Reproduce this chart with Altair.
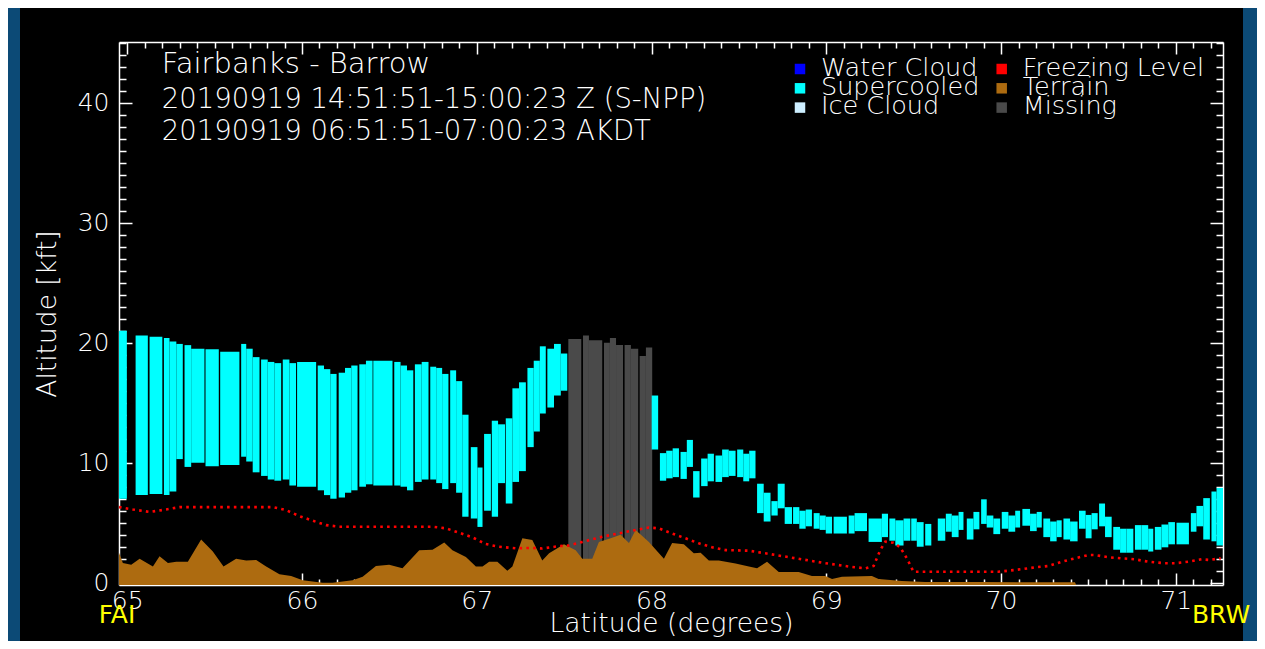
import altair as alt
import pandas as pd

# ---------------- data ----------------
# supercooled cloud columns: latitude start/end, base and top (kft)
cyan_lat0 = [64.953, 65.048, 65.128, 65.21, 65.242, 65.281, 65.328, 65.366, 65.448, 65.532,
             65.652, 65.681, 65.718, 65.766, 65.804, 65.842, 65.89, 65.928, 65.972, 66.09,
             66.126, 66.162, 66.21, 66.246, 66.282, 66.328, 66.366, 66.408, 66.528, 66.564,
             66.601, 66.646, 66.685, 66.734, 66.768, 66.802, 66.848, 66.882, 66.917, 66.966,
             67.004, 67.042, 67.086, 67.122, 67.166, 67.204, 67.242, 67.29, 67.326, 67.361,
             67.404, 67.442, 67.481,
             68.001, 68.048, 68.084, 68.121, 68.166, 68.202, 68.238, 68.284, 68.321, 68.366,
             68.404, 68.442, 68.49, 68.525, 68.559, 68.604, 68.642, 68.686, 68.722, 68.762,
             68.81, 68.846, 68.882, 68.928, 68.962, 68.997, 69.042, 69.128, 69.162, 69.242,
             69.318, 69.361, 69.395, 69.442, 69.486, 69.518, 69.566, 69.638, 69.684, 69.718,
             69.757, 69.804, 69.842, 69.886, 69.918, 69.956, 70.004, 70.042, 70.081, 70.122,
             70.166, 70.204, 70.242, 70.281, 70.318, 70.357, 70.395, 70.446, 70.484, 70.518,
             70.561, 70.595, 70.642, 70.681, 70.718, 70.766, 70.804, 70.842, 70.88, 70.918,
             70.957, 71.004, 71.086, 71.118, 71.157, 71.204, 71.233]
cyan_lat1 = [64.998, 65.118, 65.201, 65.242, 65.281, 65.318, 65.366, 65.442, 65.524, 65.642,
             65.681, 65.718, 65.757, 65.804, 65.842, 65.881, 65.928, 65.966, 66.081, 66.126,
             66.162, 66.198, 66.246, 66.282, 66.318, 66.366, 66.404, 66.518, 66.564, 66.601,
             66.637, 66.685, 66.724, 66.768, 66.802, 66.838, 66.882, 66.917, 66.953, 67.004,
             67.033, 67.081, 67.122, 67.162, 67.204, 67.242, 67.281, 67.326, 67.361, 67.395,
             67.442, 67.481, 67.518,
             68.038, 68.084, 68.121, 68.157, 68.202, 68.237, 68.275, 68.321, 68.357, 68.404,
             68.442, 68.481, 68.525, 68.559, 68.595, 68.642, 68.681, 68.722, 68.762, 68.804,
             68.846, 68.882, 68.918, 68.962, 68.997, 69.033, 69.118, 69.162, 69.233, 69.318,
             69.353, 69.395, 69.442, 69.481, 69.518, 69.557, 69.601, 69.681, 69.718, 69.757,
             69.785, 69.842, 69.876, 69.918, 69.956, 69.995, 70.042, 70.081, 70.109, 70.166,
             70.204, 70.233, 70.281, 70.318, 70.347, 70.395, 70.438, 70.484, 70.518, 70.553,
             70.595, 70.633, 70.681, 70.718, 70.757, 70.804, 70.842, 70.871, 70.918, 70.957,
             70.995, 71.075, 71.118, 71.157, 71.195, 71.233, 71.27]
cyan_base = [7.0, 7.3, 7.4, 7.3, 7.6, 10.3, 9.65, 10.0, 9.7, 9.8,
             10.5, 10.1, 9.2, 8.9, 8.6, 8.5, 8.6, 8.1, 8.0, 7.7,
             7.3, 7.0, 7.1, 7.5, 7.7, 8.0, 8.2, 8.1, 8.1, 8.0,
             7.7, 8.4, 8.6, 8.6, 8.3, 7.8, 8.3, 7.5, 5.5, 5.35,
             4.65, 6.0, 5.5, 8.3, 6.6, 8.4, 9.3, 11.3, 12.6, 14.1,
             14.6, 15.6, 16.0,
             11.1, 8.5, 8.7, 8.8, 8.65, 9.65, 7.1, 8.05, 8.45, 8.4,
             8.8, 8.9, 8.8, 8.45, 8.7, 5.8, 5.1, 5.6, 6.2, 4.9,
             4.9, 4.5, 4.7, 4.5, 4.4, 4.1, 4.1, 4.1, 4.3, 3.4,
             3.8, 3.5, 3.1, 3.5, 3.5, 3.0, 3.1, 3.5, 4.25, 3.8,
             4.4, 3.6, 4.45, 4.9, 4.6, 4.05, 4.5, 4.25, 4.6, 4.75,
             4.3, 4.6, 3.8, 3.45, 3.8, 3.6, 3.45, 4.5, 3.7, 4.45,
             4.7, 3.8, 2.75, 2.5, 2.5, 2.75, 2.75, 2.6, 2.75, 2.95,
             3.2, 3.2, 4.25, 4.7, 3.6, 3.45, 3.1]
cyan_top = [21.0, 20.6, 20.5, 20.4, 20.1, 19.9, 19.8, 19.5, 19.45, 19.25,
            19.9, 19.5, 18.8, 18.6, 18.4, 18.3, 18.6, 18.3, 18.4, 18.1,
            17.8, 17.4, 17.5, 17.9, 18.1, 18.2, 18.5, 18.5, 18.4, 18.1,
            17.7, 18.2, 18.4, 18.0, 17.9, 17.4, 17.7, 16.8, 14.0, 11.3,
            9.6, 12.4, 13.5, 13.2, 13.7, 16.2, 16.7, 17.9, 18.5, 19.7,
            19.5, 19.9, 19.1,
            15.6, 10.8, 11.0, 11.2, 10.9, 11.9, 9.3, 10.35, 10.75, 10.6,
            11.1, 11.0, 11.1, 10.75, 11.0, 8.25, 7.5, 6.8, 8.25, 6.3,
            6.3, 6.0, 6.1, 5.8, 5.6, 5.5, 5.5, 5.6, 5.8, 5.35,
            5.75, 5.35, 5.2, 5.35, 5.35, 5.05, 4.9, 5.35, 5.75, 5.6,
            5.9, 5.35, 5.9, 6.95, 5.6, 5.35, 5.9, 5.6, 6.0, 6.15,
            5.75, 5.9, 5.35, 5.1, 5.2, 5.35, 5.1, 6.0, 5.65, 5.8,
            6.6, 5.5, 4.65, 4.5, 4.5, 4.8, 4.8, 4.5, 4.65, 4.85,
            5.05, 5.0, 5.8, 6.4, 7.05, 7.6, 7.9]

# missing-data columns
miss_lat0 = [67.524, 67.608, 67.642, 67.728, 67.762, 67.797, 67.846, 67.882, 67.932, 67.968]
miss_lat1 = [67.598, 67.642, 67.718, 67.762, 67.797, 67.837, 67.882, 67.924, 67.968, 68.004]
miss_top = [20.3, 20.6, 20.2, 20.0, 20.4, 19.8, 19.8, 19.5, 18.9, 19.6]

# terrain profile
terrain_lat = [64.953, 64.975, 65.023, 65.071, 65.147, 65.185, 65.233, 65.281, 65.347, 65.423,
               65.49, 65.551, 65.623, 65.681, 65.738, 65.795, 65.871, 65.938, 66.004, 66.118,
               66.175, 66.29, 66.347, 66.423, 66.499, 66.575, 66.671, 66.747, 66.814, 66.861,
               66.938, 66.995, 67.033, 67.071, 67.118, 67.175, 67.204, 67.261, 67.318, 67.375,
               67.414, 67.499, 67.566, 67.604, 67.661, 67.699, 67.766, 67.823, 67.871, 67.909,
               67.985, 68.071, 68.118, 68.185, 68.242, 68.281, 68.328, 68.385, 68.481, 68.557,
               68.604, 68.661, 68.728, 68.842, 68.918, 68.995, 69.033, 69.09, 69.261, 69.299,
               69.433, 69.566, 69.871, 70.423, 70.43]
terrain_kft = [2.5, 1.65, 1.5, 2.0, 1.35, 2.2, 1.65, 1.75, 1.75, 3.6,
               2.6, 1.35, 2.0, 1.85, 1.9, 1.35, 0.7, 0.55, 0.2, 0.0,
               0.0, 0.2, 0.5, 1.4, 1.5, 1.2, 2.7, 2.75, 3.35, 2.7,
               2.15, 1.35, 1.35, 1.75, 1.75, 1.0, 1.35, 3.7, 3.55, 1.85,
               2.45, 3.2, 2.7, 2.0, 2.0, 3.4, 3.7, 4.0, 3.3, 4.4,
               3.4, 2.0, 3.3, 3.2, 2.45, 2.5, 1.85, 1.85, 1.6, 1.35,
               1.2, 1.75, 0.9, 0.9, 0.55, 0.55, 0.3, 0.5, 0.55, 0.3,
               0.15, 0.05, 0.05, 0.03, -0.19]

# freezing level
frz_lat = [64.953, 65.033, 65.128, 65.223, 65.299, 65.413, 65.604, 65.833, 65.909, 65.985,
           66.061, 66.138, 66.214, 66.366, 66.747, 66.823, 66.899, 66.975, 67.052, 67.128,
           67.223, 67.318, 67.375, 67.471, 67.528, 67.604, 67.718, 67.833, 67.909, 67.985,
           68.042, 68.118, 68.195, 68.271, 68.347, 68.423, 68.556, 68.652, 68.747, 68.861,
           68.975, 69.071, 69.128, 69.223, 69.271, 69.309, 69.338, 69.385, 69.423, 69.461,
           69.499, 69.699, 69.985, 70.081, 70.195, 70.271, 70.347, 70.423, 70.499, 70.538,
           70.614, 70.69, 70.766, 70.842, 70.938, 70.995, 71.071, 71.147, 71.19, 71.257]
frz_kft = [6.3, 6.1, 5.9, 6.1, 6.3, 6.3, 6.3, 6.3, 6.05, 5.55,
           5.17, 4.8, 4.67, 4.67, 4.67, 4.53, 4.17, 3.78, 3.22, 3.0,
           2.87, 2.9, 2.85, 3.05, 3.1, 3.4, 3.83, 4.17, 4.4, 4.6,
           4.53, 4.1, 3.7, 3.28, 2.95, 2.72, 2.67, 2.45, 2.22, 1.95,
           1.67, 1.47, 1.35, 1.2, 1.4, 2.72, 3.42, 3.33, 2.95, 2.03,
           0.92, 0.92, 0.92, 1.06, 1.28, 1.39, 1.75, 2.03, 2.31, 2.31,
           2.12, 2.03, 1.95, 1.75, 1.62, 1.62, 1.75, 1.95, 1.9, 2.03]

x_major = [65, 66, 67, 68, 69, 70, 71]
y_major = [0, 10, 20, 30, 40]
title_lines = ["Fairbanks - Barrow",
               "20190919 14:51:51-15:00:23 Z (S-NPP)",
               "20190919 06:51:51-07:00:23 AKDT"]
legend_labels = ["Water Cloud", "Supercooled", "Ice Cloud",
                 "Freezing Level", "Terrain", "Missing"]
legend_colors = ["#0000ff", "#00ffff", "#cdeeff", "#ff0000", "#ad6b10", "#4a4a4a"]
end_labels = ["FAI", "BRW"]

# ---------------- layout ----------------
W, H = 1104, 543
FONT = "DejaVu Sans"
FW = 200
TXT = "#ffffff"
CYAN = "#00ffff"
GRAY = "#4a4a4a"
BROWN = "#ad6b10"
BLUE_BG = "#0c4a76"

X_DOM = [64.953, 71.27]
Y_DOM = [-0.19, 45.06]
xs = alt.Scale(domain=X_DOM, nice=False, zero=False)
ys = alt.Scale(domain=Y_DOM, nice=False, zero=False)

x_minor_vals = [round(65.0 + 0.1 * i, 1) for i in range(63)]
y_minor_vals = list(range(0, 46))


def cond(test, big, small):
    return {"condition": {"test": test, "value": big}, "value": small}


XT = "abs(datum.value - round(datum.value)) < 0.001"
YT = "datum.value % 10 === 0"

tick_common = dict(labels=False, grid=False, ticks=True, tickColor=TXT,
                   tickWidth=1.5, title=None)

ax_x_bottom_ticks = alt.Axis(orient="top", offset=-H, values=x_minor_vals, domain=False,
                             tickSize=cond(XT, 12, 6), **tick_common)
ax_x_top_ticks = alt.Axis(orient="bottom", offset=-H, values=x_minor_vals, domain=True,
                          domainColor=TXT, domainWidth=1.5,
                          tickSize=cond(XT, 12, 6), **tick_common)
ax_y_left_ticks = alt.Axis(orient="right", offset=-W, values=y_minor_vals, domain=False,
                           tickSize=cond(YT, 13, 7), **tick_common)
ax_y_right_ticks = alt.Axis(orient="left", offset=-W, values=y_minor_vals, domain=True,
                            domainColor=TXT, domainWidth=1.5,
                            tickSize=cond(YT, 13, 7), **tick_common)

ax_x_lab = alt.Axis(orient="bottom", values=x_major, format="d", ticks=False, tickSize=0,
                    labelPadding=3, labelFont=FONT, labelFontSize=25, labelColor=TXT,
                    labelFontWeight=FW, labelFlush=False, labelOverlap=False,
                    domain=True, domainColor=TXT, domainWidth=1.5, grid=False,
                    title="Latitude (degrees)", titleFont=FONT, titleFontSize=26.5,
                    titleFontWeight=FW, titleColor=TXT,
                    titleBaseline="alphabetic", titleY=46, titleX=W / 2)
ax_y_lab = alt.Axis(orient="left", values=y_major, format="d", ticks=False, tickSize=0,
                    labelPadding=10, labelFont=FONT, labelFontSize=25, labelColor=TXT,
                    labelFontWeight=FW, labelFlush=False, labelOverlap=False,
                    domain=True, domainColor=TXT, domainWidth=1.5, grid=False,
                    title="Altitude [kft]", titleFont=FONT, titleFontSize=26.5,
                    titleFontWeight=FW, titleColor=TXT, titleAngle=270,
                    titleAlign="center", titleBaseline="middle", titleX=-72, titleY=H / 2)

cyan_df = pd.DataFrame({"lat0": cyan_lat0, "lat1": cyan_lat1, "base": cyan_base, "top": cyan_top})
miss_df = pd.DataFrame({"lat0": miss_lat0, "lat1": miss_lat1, "top": miss_top})
terr_df = pd.DataFrame({"lat": terrain_lat, "kft": terrain_kft})
frz_df = pd.DataFrame({"lat": frz_lat, "kft": frz_kft})

one = alt.Data(values=[{}])

# decorative blue frame strips at the page edges
strip_l = alt.Chart(one).mark_rect(color=BLUE_BG).encode(
    x=alt.value(-111), x2=alt.value(-99), y=alt.value(-34), y2=alt.value(H + 56))
strip_r = alt.Chart(one).mark_rect(color=BLUE_BG).encode(
    x=alt.value(W + 20), x2=alt.value(W + 34), y=alt.value(-34), y2=alt.value(H + 56))

missing = alt.Chart(miss_df).mark_rect(color=GRAY).encode(
    x=alt.X("lat0:Q", scale=xs, axis=ax_x_top_ticks),
    x2="lat1:Q",
    y=alt.Y("top:Q", scale=ys, axis=ax_y_right_ticks),
    y2=alt.datum(Y_DOM[0]),
)
cyan = alt.Chart(cyan_df).mark_rect(color=CYAN).encode(
    x=alt.X("lat0:Q", scale=xs, axis=ax_x_bottom_ticks),
    x2="lat1:Q",
    y=alt.Y("base:Q", scale=ys, axis=ax_y_left_ticks),
    y2="top:Q",
)
terrain = alt.Chart(terr_df).mark_area(color=BROWN, opacity=1, interpolate="linear").encode(
    x=alt.X("lat:Q", scale=xs, axis=ax_x_lab),
    y=alt.Y("kft:Q", scale=ys, axis=ax_y_lab),
    y2=alt.datum(Y_DOM[0]),
)
freezing = alt.Chart(frz_df).mark_line(color="#ff0000", strokeWidth=2.6, strokeDash=[2.6, 4.2],
                                       strokeCap="butt").encode(
    x=alt.X("lat:Q", scale=xs, axis=None),
    y=alt.Y("kft:Q", scale=ys, axis=None),
)

layers = [strip_l, strip_r, missing, cyan, terrain, freezing]

# title block
title_pos = [(42.7, 30.5), (42.7, 65.5), (42.7, 97.5)]
title_sizes = [29, 27.5, 27.5]
for txt, (tx, ty), fs in zip(title_lines, title_pos, title_sizes):
    layers.append(alt.Chart(one).mark_text(
        text=txt, font=FONT, fontSize=fs, fontWeight=FW, color=TXT, align="left",
        baseline="alphabetic"
    ).encode(x=alt.value(tx), y=alt.value(ty)))

# legend (two columns of three)
for i, (lab, col) in enumerate(zip(legend_labels, legend_colors)):
    c, r = divmod(i, 3)
    sx = 681 + c * 201.7
    sy = 27 + r * 19.3
    layers.append(alt.Chart(one).mark_square(size=110, color=col, opacity=1).encode(
        x=alt.value(sx), y=alt.value(sy)))
    layers.append(alt.Chart(one).mark_text(
        text=lab, font=FONT, fontSize=25.5, fontWeight=FW, color=TXT, align="left",
        baseline="alphabetic"
    ).encode(x=alt.value(sx + 21), y=alt.value(sy + 6.5)))

# station labels at the ends of the track
for lab, ex in zip(end_labels, [-2, 1102]):
    layers.append(alt.Chart(one).mark_text(
        text=lab, font=FONT, fontSize=25, fontWeight="normal", color="#ffff00", align="center",
        baseline="alphabetic"
    ).encode(x=alt.value(ex), y=alt.value(581)))

chart = alt.layer(*layers).resolve_axis(x="independent", y="independent").properties(
    width=W, height=H, background="black",
    padding={"left": 111, "top": 34, "right": 34, "bottom": 56},
    autosize=alt.AutoSizeParams(type="none"),
).configure_view(stroke=None, fill="black")

chart.save("out.html", embed_options={"renderer": "svg", "actions": False})
